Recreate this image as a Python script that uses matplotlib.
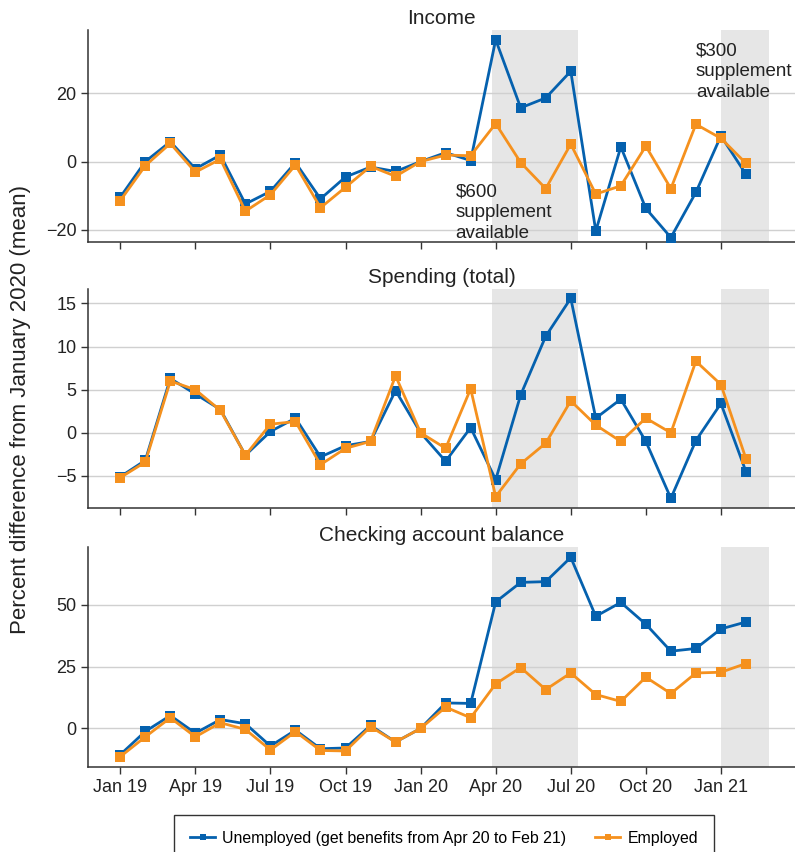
import matplotlib.pyplot as plt
import numpy as np

plt.rcParams["font.family"] = ["Liberation Sans", "DejaVu Sans"]

# monthly series, Jan 2019 .. Feb 2021
month_labels = [
    "Jan 19", "Feb 19", "Mar 19", "Apr 19", "May 19", "Jun 19", "Jul 19",
    "Aug 19", "Sep 19", "Oct 19", "Nov 19", "Dec 19", "Jan 20", "Feb 20",
    "Mar 20", "Apr 20", "May 20", "Jun 20", "Jul 20", "Aug 20", "Sep 20",
    "Oct 20", "Nov 20", "Dec 20", "Jan 21", "Feb 21",
]
tick_labels = ["Jan 19", "Apr 19", "Jul 19", "Oct 19", "Jan 20",
               "Apr 20", "Jul 20", "Oct 20", "Jan 21"]

income_unemp = [-10.4, 0.0, 5.8, -2.1, 1.9, -12.4, -8.7, -0.3, -10.9, -4.5,
                -1.6, -2.9, 0.0, 2.6, 0.3, 35.6, 15.7, 18.6, 26.4, -20.3,
                4.3, -13.7, -22.2, -9.0, 7.5, -3.7]
income_emp = [-11.4, -1.2, 5.3, -3.1, 0.7, -14.5, -9.7, -1.0, -13.5, -7.5,
              -1.4, -4.3, 0.0, 1.9, 1.7, 11.1, -0.3, -7.9, 5.1, -9.5,
              -7.1, 4.5, -7.9, 10.9, 6.8, -0.5]

spend_unemp = [-5.1, -3.2, 6.3, 4.5, 2.7, -2.6, 0.15, 1.7, -2.8, -1.5,
               -1.0, 4.9, 0.0, -3.3, 0.6, -5.45, 4.4, 11.2, 15.6, 1.7,
               3.9, -1.0, -7.6, -0.9, 3.4, -4.5]
spend_emp = [-5.2, -3.4, 6.0, 5.0, 2.6, -2.6, 1.0, 1.3, -3.7, -1.8,
             -1.0, 6.6, 0.0, -1.8, 5.1, -7.4, -3.6, -1.2, 3.7, 0.9,
             -1.0, 1.7, 0.0, 8.3, 5.6, -3.0]

check_unemp = [-10.6, -1.2, 5.2, -1.9, 3.6, 1.9, -7.1, -0.7, -8.2, -7.9,
               1.2, -5.5, 0.0, 10.3, 10.1, 51.1, 59.0, 59.3, 69.1, 45.3,
               50.9, 42.1, 31.2, 32.3, 40.2, 43.0]
check_emp = [-11.4, -3.4, 4.3, -3.4, 2.3, -0.4, -8.7, -1.3, -8.9, -9.1,
             0.7, -5.5, 0.0, 8.6, 4.3, 18.0, 24.6, 15.7, 22.4, 13.7,
             10.9, 20.7, 14.1, 22.4, 22.7, 26.2]

BLUE = "#0561ae"
ORANGE = "#f5911e"

x = np.arange(len(month_labels))
tick_pos = [month_labels.index(t) for t in tick_labels]

panels = [
    ("Income", income_unemp, income_emp, (-23.5, 38.5), [-20, 0, 20]),
    ("Spending (total)", spend_unemp, spend_emp, (-8.7, 16.7), [-5, 0, 5, 10, 15]),
    ("Checking account balance", check_unemp, check_emp, (-15.5, 73.3), [0, 25, 50]),
]
# axes boxes in figure fractions: left, bottom, width, height
boxes = [
    (0.111, 0.716, 0.889, 0.249),
    (0.111, 0.404, 0.889, 0.257),
    (0.111, 0.100, 0.889, 0.258),
]

fig = plt.figure(figsize=(7.95, 8.52), dpi=100)
axes = []
for (title, unemp, emp, ylim, yticks), box in zip(panels, boxes):
    ax = fig.add_axes(box)
    axes.append(ax)
    # benefit supplement windows
    ax.axvspan(14.86, 18.28, color="#e6e6e6", lw=0, zorder=0)
    ax.axvspan(24.0, 25.94, color="#e6e6e6", lw=0, zorder=0)
    ax.plot(x, unemp, color=BLUE, lw=2, marker="s", ms=6.5, mew=0, zorder=3,
            label="Unemployed (get benefits from Apr 20 to Feb 21)")
    ax.plot(x, emp, color=ORANGE, lw=2, marker="s", ms=6.5, mew=0, zorder=4,
            label="Employed")
    ax.set_xlim(-1.28, 26.96)
    ax.set_ylim(*ylim)
    ax.set_yticks(yticks)
    ax.set_xticks(tick_pos)
    ax.set_xticklabels(tick_labels)
    ax.yaxis.grid(True, color="#d0d0d0", lw=1)
    ax.set_axisbelow(True)
    for side in ("top", "right"):
        ax.spines[side].set_visible(False)
    for side in ("left", "bottom"):
        ax.spines[side].set_color("#333333")
        ax.spines[side].set_linewidth(1.1)
    ax.tick_params(direction="out", length=5, width=1, color="#333333",
                   labelsize=13, labelcolor="#222222")
    ax.set_title(title, fontsize=15, color="#222222", pad=4)

for ax in axes[:2]:
    ax.tick_params(labelbottom=False)

axes[0].text(13.4, -6.5, "$600\nsupplement\navailable", fontsize=13.5,
             color="#222222", va="top", ha="left", linespacing=1.27)
axes[0].text(23.0, 34.8, "$300\nsupplement\navailable", fontsize=13.5,
             color="#222222", va="top", ha="left", linespacing=1.27)

fig.text(0.026, 0.519, "Percent difference from January 2020 (mean)",
         rotation=90, va="center", ha="center", fontsize=16, color="#222222")

handles, labels = axes[2].get_legend_handles_labels()
leg = fig.legend(handles, labels, loc="upper center", bbox_to_anchor=(0.5585, 0.0434),
                 ncol=2, fontsize=11.4, frameon=True, fancybox=False,
                 edgecolor="#333333", handlelength=1.6, handletextpad=0.45,
                 columnspacing=1.8, borderpad=1.0, borderaxespad=0,
                 framealpha=1)
leg.get_frame().set_linewidth(1)
for h in leg.legend_handles:
    h.set_markersize(5)

fig.savefig("out.png", dpi=100)
